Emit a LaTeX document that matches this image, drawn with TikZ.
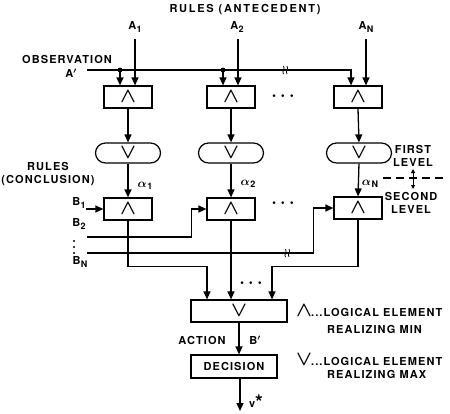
\documentclass[tikz,border=0pt]{standalone}
\usepackage{fontspec}
\setmainfont{TeX Gyre Heros}[LetterSpace=10]
\usetikzlibrary{arrows.meta,calc}
\newcommand\andsym{{\fontsize{20}{20}\selectfont\boldmath$\wedge$}}
\newcommand\orsym{{\fontsize{20}{20}\selectfont\boldmath$\vee$}}
\newcommand\sbs[1]{\kern0.5pt\raisebox{-2.5pt}{\fontsize{9}{9}\selectfont #1}}
\newcommand\bigdots{{\fontsize{16}{16}\selectfont\boldmath$\cdots$}}
\newcommand\alf{{\fontsize{12}{12}\selectfont\boldmath$\alpha$}}
\newcommand\prm{{\boldmath$'$}}
\tikzset{
  every node/.style={font=\fontsize{11}{13}\selectfont\bfseries, inner sep=1pt},
  ln/.style={line width=1.3pt},
  arr/.style={ln, -{Triangle[length=8pt,width=7pt]}},
  minbox/.style={draw, line width=1.2pt, minimum width=48pt, minimum height=22pt, inner sep=0pt},
  orbox/.style={draw, line width=1.2pt, rounded corners=10pt, minimum width=65pt, minimum height=20pt, inner sep=0pt},
  wide/.style={draw, line width=1.2pt, minimum height=22pt, inner sep=0pt},
  brk/.pic={\draw[line width=0.8pt] (-2.5,-4) .. controls (-0.5,-1.5) and (-4.5,1.5) .. (-2.5,4);
            \draw[line width=0.8pt] (1,-4) .. controls (3,-1.5) and (-1,1.5) .. (1,4);}
}
\begin{document}
\begin{tikzpicture}[x=1pt,y=-1pt]
\useasboundingbox (0,0) rectangle (450,413);
% title and labels
\node (title) at (245,10) {\addfontfeature{LetterSpace=16}RULES (ANTECEDENT)};
\node (a1) at (135,27) {A\sbs{1}};
\node (a2) at (237,27) {A\sbs{2}};
\node (aN) at (366,27) {A\sbs{N}};
\node (obst) at (67,59) {OBSERVATION};
\node (apr) at (71,73) {A\prm};
% first level
\node[minbox] (m1) at (128,97) {\andsym};
\node[minbox] (m2) at (231,97) {\andsym};
\node[minbox] (m3) at (358,97) {\andsym};
\node (dots1) at (283,96) {\bigdots};
\node[orbox] (o1) at (128,153) {\orsym};
\node[orbox] (o2) at (231,153) {\orsym};
\node[orbox] (o3) at (359,153) {\orsym};
% second level
\node[minbox] (s1) at (128,209) {\andsym};
\node[minbox] (s2) at (231,209) {\andsym};
\node[minbox] (s3) at (358,208) {\andsym};
\node (dots2) at (283,203) {\bigdots};
\node[wide, minimum width=96pt] (f) at (239,311) {\orsym};
\node[wide, minimum width=86pt, minimum height=23pt] (d) at (234,366.5) {DECISION};
\node (dots3) at (251,283) {\bigdots};
% rule antecedent inputs
\coordinate (i1) at ($(m1.north)+(7,0)$);
\coordinate (i2) at ($(m2.north)+(7,0)$);
\coordinate (i3) at ($(m3.north)+(8,0)$);
\draw[arr] (i1 |- 0,39) -- (i1);
\draw[arr] (i2 |- 0,39) -- (i2);
\draw[arr] (i3 |- 0,39) -- (i3);
% observation
\coordinate (obs) at (87,70);
\coordinate (c1) at ($(m1.north)+(-8,0)$);
\coordinate (c2) at ($(m2.north)+(-8,0)$);
\coordinate (c3) at ($(m3.north)+(-7,0)$);
\draw[arr] (obs) -- (c3 |- obs) -- (c3);
\draw[arr] (c1 |- obs) -- (c1);
\draw[arr] (c2 |- obs) -- (c2);
\fill (c1 |- obs) circle (2.4);
\fill (c2 |- obs) circle (2.4);
\pic at (286,70) {brk};
% first level flows
\foreach \i in {1,2,3}{
  \draw[arr] (m\i.south) -- (o\i.north);
  \draw[arr] (o\i.south) -- (s\i.north);
}
\node (al1) at (145,186) {\alf\sbs{1}};
\node (al2) at (248,184) {\alf\sbs{2}};
\node (alN) at (370,184) {\alf\sbs{N}};
% level labels
\node[align=center] (fl) at (413,156) {FIRST\\LEVEL};
\node[align=center] (sl) at (411,203) {SECOND\\LEVEL};
\coordinate (dl) at (383,178);
\coordinate (dr) at (445,178);
\draw[ln, line width=1.1pt, dash pattern=on 8pt off 5pt] (dl) -- (dr);
\coordinate (du) at (413,169);
\coordinate (dd) at (413,189);
\draw[line width=1pt, {Triangle[length=4pt,width=4pt]}-{Triangle[length=4pt,width=4pt]}] (du) -- (dd);
% rules conclusion
\node[align=center] (rc) at (48,174) {RULES\\(CONCLUSION)};
\node (b1) at (79,203) {B\sbs{1}};
\node (b2) at (79,224) {B\sbs{2}};
\node (bN) at (80,262) {B\sbs{N}};
\foreach \yy in {241,247,253} \fill (74,\yy) circle (1.2);
\coordinate (bin1) at ($(s1.west)+(-17,0)$);
\draw[arr] (bin1) -- (s1.west);
\coordinate (bin2) at (87,237);
\draw[arr] (bin2) -| ($(s2.west)+(-15,0)$) -- (s2.west);
\coordinate (binN) at (87,253);
\draw[arr] (binN) -| ($(s3.west)+(-20,0)$) -- (s3.west);
\pic at (288,253) {brk};
% outputs to final max
\draw[arr] (s1.south) -- ++(0,46) -| ($(f.north)+(-32,0)$);
\draw[arr] (s2.south) -- (s2.south |- f.north);
\draw[arr] (s3.south) -- ++(0,47) -| ($(f.north)+(33,0)$);
% action and decision
\draw[arr] (f.south) -- (f.south |- d.north);
\node (act) at (202,340) {ACTION};
\node (bp) at (255,340) {B\prm};
\coordinate (vout) at (240,411);
\draw[arr] (vout |- d.south) -- (vout);
\node (vs) at (256,402) {v\raisebox{-2pt}{\fontsize{20}{20}\selectfont *}};
% legend
\node[anchor=west] (lg1) at (295,311) {\andsym\kern-1pt...LOGICAL ELEMENT};
\node[anchor=west] (lg1b) at (326,329) {REALIZING MIN};
\node[anchor=west] (lg2) at (295,360) {\orsym\kern-1pt...LOGICAL ELEMENT};
\node[anchor=west] (lg2b) at (326,374) {REALIZING MAX};
\end{tikzpicture}
\end{document}
